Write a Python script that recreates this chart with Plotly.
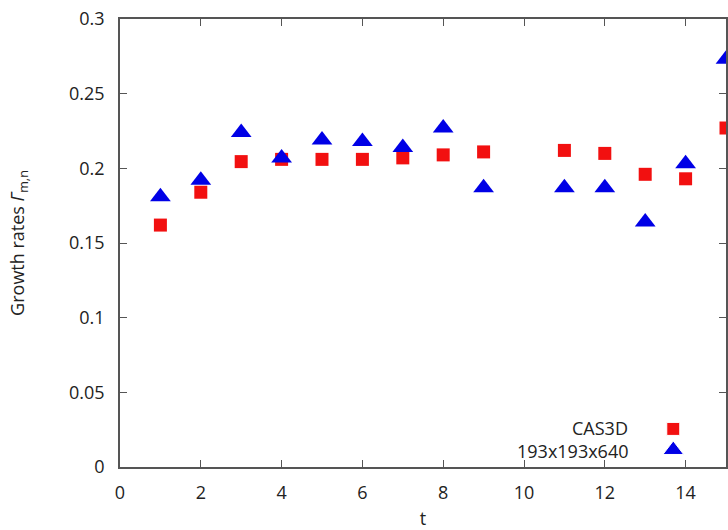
import plotly.graph_objects as go

t_cas = [1, 2, 3, 4, 5, 6, 7, 8, 9, 11, 12, 13, 14, 15]
g_cas = [0.162, 0.184, 0.2045, 0.206, 0.206, 0.206, 0.207, 0.209, 0.211, 0.212, 0.210, 0.196, 0.193, 0.227]
t_grid = [1, 2, 3, 4, 5, 6, 7, 8, 9, 11, 12, 13, 14, 15]
g_grid = [0.181, 0.192, 0.224, 0.207, 0.219, 0.218, 0.214, 0.227, 0.187, 0.187, 0.187, 0.164, 0.203, 0.273]
x_ticks = [0, 2, 4, 6, 8, 10, 12, 14, 16]
y_ticks = [0, 0.05, 0.1, 0.15, 0.2, 0.25, 0.3]
labels = ["CAS3D", "193x193x640"]

RED = "#f21010"
BLUE = "#0000e6"
FRAME = "#555555"
TXT = "#222222"
FONT = "Open Sans"
FS = 18

fig = go.Figure()
fig.add_trace(go.Scatter(x=t_cas, y=g_cas, mode="markers", name=labels[0],
                         marker=dict(symbol="square", size=13, color=RED), showlegend=False))
fig.add_trace(go.Scatter(x=t_grid, y=g_grid, mode="markers", name=labels[1],
                         marker=dict(symbol="triangle-up", size=18, color=BLUE), showlegend=False))

# legend keys on an overlaying axis (keys sit right of the text, as in the reference)
key_x = 0.913
key_y = [0.085, 0.038]
fig.add_trace(go.Scatter(x=[key_x, key_x], y=key_y, mode="markers", xaxis="x2", yaxis="y2",
                         marker=dict(symbol=["square", "triangle-up"], size=[13, 18], color=[RED, BLUE],
                                     opacity=1),
                         showlegend=False, hoverinfo="skip", cliponaxis=False))

axis_common = dict(showline=True, linecolor=FRAME, linewidth=1.5, mirror="ticks",
                   ticks="inside", ticklen=7, tickcolor=FRAME, tickwidth=1,
                   showgrid=False, zeroline=False,
                   tickfont=dict(family=FONT, size=FS, color=TXT))

fig.update_layout(
    width=728, height=530,
    margin=dict(l=120, r=0, t=19, b=63),
    paper_bgcolor="white", plot_bgcolor="white",
    xaxis=dict(range=[0, 15], tickvals=x_ticks, ticklabelstandoff=9,
               title=dict(text="t", font=dict(family=FONT, size=FS, color=TXT), standoff=10),
               **axis_common),
    yaxis=dict(range=[0, 0.3], tickvals=y_ticks, ticklabelstandoff=10,
               title=dict(text="Growth rates <i>Γ</i><sub>m,n</sub>",
                          font=dict(family=FONT, size=FS, color=TXT), standoff=40),
               **axis_common),
    xaxis2=dict(overlaying="x", range=[0, 1], visible=False, anchor="y2"),
    yaxis2=dict(overlaying="y", range=[0, 1], visible=False, anchor="x2"),
    showlegend=False,
)

for lab, yy in zip(labels, [0.087, 0.035]):
    fig.add_annotation(x=0.842, y=yy, xref="paper", yref="paper", text=lab, showarrow=False,
                       xanchor="right", yanchor="middle", font=dict(family=FONT, size=FS, color=TXT))

fig.write_html("out.html")
